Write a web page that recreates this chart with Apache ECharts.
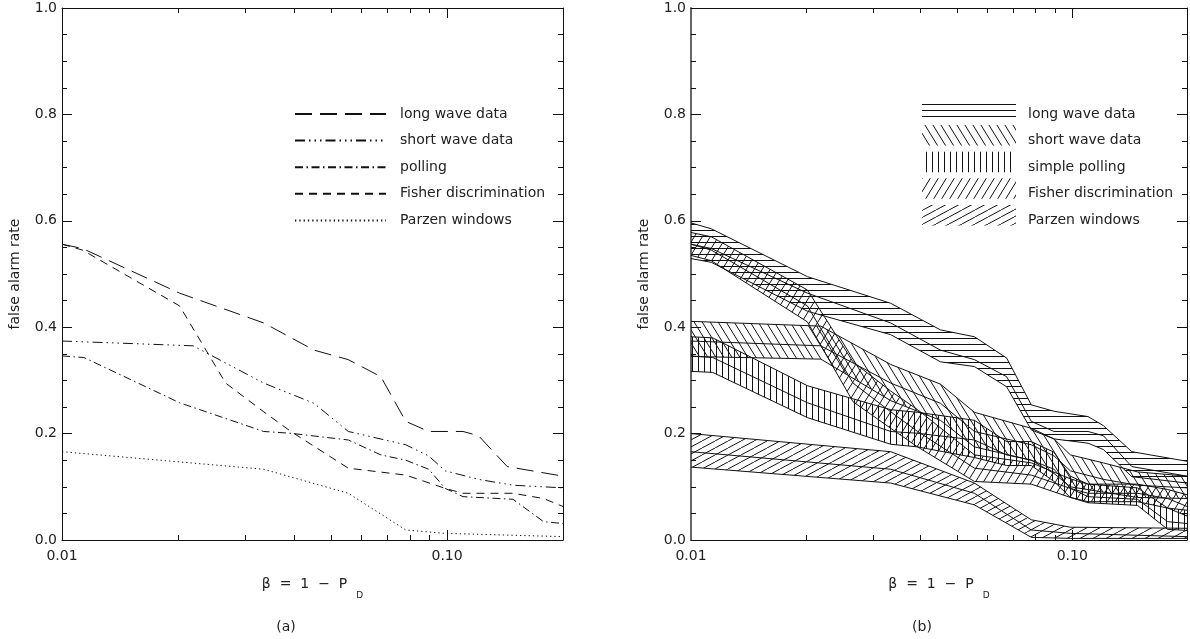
<!DOCTYPE html>
<html><head><meta charset="utf-8">
<script src="https://cdn.jsdelivr.net/npm/echarts@6/dist/echarts.min.js"></script>
<style>html,body{margin:0;padding:0;background:#fff}#c{width:1190px;height:639px}</style>
</head><body><div id="c"></div>
<script>
// ---------------- data ----------------
const xMinorTicks = [0.02, 0.03, 0.04, 0.05, 0.06, 0.07, 0.08, 0.09];
const xMajorTicks = [0.1];
const xTickLabels = { '0.01': '0.01', '0.1': '0.10' };

const lineNames = ['long wave data', 'short wave data', 'polling', 'Fisher discrimination', 'Parzen windows'];
const bandNames = ['long wave data', 'short wave data', 'simple polling', 'Fisher discrimination', 'Parzen windows'];

const longWaveX  = [0.01, 0.0113, 0.0202, 0.0334, 0.0451, 0.0554, 0.0673, 0.0781, 0.0896, 0.110, 0.1207, 0.1433, 0.2];
const longWaveY  = [0.556, 0.548, 0.464, 0.408, 0.357, 0.339, 0.307, 0.223, 0.204, 0.204, 0.196, 0.138, 0.120];
const longWaveHi = [0.596, 0.585, 0.495, 0.445, 0.395, 0.382, 0.342, 0.254, 0.242, 0.232, 0.215, 0.166, 0.148];
const longWaveLo = [0.529, 0.522, 0.430, 0.386, 0.335, 0.326, 0.288, 0.207, 0.190, 0.182, 0.170, 0.119, 0.107];

const shortWaveX  = [0.01, 0.0219, 0.0334, 0.0451, 0.0554, 0.0781, 0.0896, 0.0989, 0.1207, 0.1483, 0.2];
const shortWaveY  = [0.374, 0.365, 0.295, 0.257, 0.204, 0.179, 0.158, 0.130, 0.114, 0.103, 0.098];
const shortWaveHi = [0.411, 0.402, 0.330, 0.293, 0.240, 0.210, 0.190, 0.160, 0.145, 0.128, 0.120];
const shortWaveLo = [0.345, 0.340, 0.262, 0.225, 0.175, 0.150, 0.125, 0.100, 0.090, 0.080, 0.078];

const pollingX  = [0.01, 0.0114, 0.0202, 0.0334, 0.0393, 0.0554, 0.0673, 0.0781, 0.0896, 0.0989, 0.110, 0.1483, 0.178, 0.2];
const pollingY  = [0.346, 0.343, 0.258, 0.204, 0.2006, 0.188, 0.160, 0.150, 0.133, 0.097, 0.0815, 0.0765, 0.0345, 0.031];
const pollingHi = [0.382, 0.380, 0.290, 0.245, 0.240, 0.225, 0.185, 0.185, 0.165, 0.120, 0.105, 0.098, 0.060, 0.056];
const pollingLo = [0.317, 0.315, 0.230, 0.180, 0.175, 0.155, 0.140, 0.140, 0.110, 0.080, 0.070, 0.065, 0.020, 0.018];

const fisherX  = [0.01, 0.0113, 0.0202, 0.0266, 0.0334, 0.0393, 0.0554, 0.0781, 0.0989, 0.110, 0.1483, 0.178, 0.2];
const fisherY  = [0.556, 0.545, 0.440, 0.295, 0.241, 0.204, 0.135, 0.122, 0.097, 0.0878, 0.0878, 0.078, 0.063];
const fisherHi = [0.578, 0.570, 0.470, 0.335, 0.280, 0.245, 0.160, 0.145, 0.115, 0.105, 0.105, 0.095, 0.085];
const fisherLo = [0.535, 0.525, 0.410, 0.260, 0.210, 0.175, 0.110, 0.105, 0.080, 0.072, 0.072, 0.060, 0.045];

const parzenX  = [0.01, 0.0334, 0.0554, 0.0781, 0.0989, 0.2];
const parzenY  = [0.166, 0.133, 0.0878, 0.0188, 0.0125, 0.0063];
const parzenHi = [0.200, 0.166, 0.107, 0.038, 0.024, 0.022];
const parzenLo = [0.137, 0.107, 0.066, 0.005, 0.003, 0.003];

// ---------------- styling ----------------
const FONT = 'DejaVu Sans';
const INK = '#111';
const TXT = '#222';
const dashStyles = [[17, 8], [10, 4, 1.5, 4, 1.5, 4, 1.5, 4], [8, 3.5, 1.5, 3.5], [8, 6], [1.3, 3]];

function hatch(kind) {
  const c = document.createElement('canvas');
  let w, h;
  if (kind === 'h') { w = 8; h = 6; }
  else if (kind === 'v') { w = 6; h = 8; }
  else if (kind === 'back' || kind === 'fwd') { w = 8; h = 13; }
  else { w = 13; h = 7; }
  c.width = w; c.height = h;
  const g = c.getContext('2d');
  g.fillStyle = INK; g.strokeStyle = INK; g.lineWidth = 1;
  if (kind === 'h') g.fillRect(0, 2, w, 1);
  else if (kind === 'v') g.fillRect(2, 0, 1, h);
  else {
    g.beginPath();
    for (let k = -1; k <= 1; k++) {
      if (kind === 'back') { g.moveTo(k * w, 0); g.lineTo(k * w + w, h); }
      else { g.moveTo(k * w, h); g.lineTo(k * w + w, 0); }
    }
    g.stroke();
  }
  return { image: c, repeat: 'repeat' };
}
const patterns = [hatch('h'), hatch('back'), hatch('v'), hatch('fwd'), hatch('shallow')];

const lineSets = [
  [longWaveX, longWaveY, longWaveLo, longWaveHi],
  [shortWaveX, shortWaveY, shortWaveLo, shortWaveHi],
  [pollingX, pollingY, pollingLo, pollingHi],
  [fisherX, fisherY, fisherLo, fisherHi],
  [parzenX, parzenY, parzenLo, parzenHi]
];

const zip = (a, b) => a.map((v, i) => [v, b[i]]);

function axisSet(gi) {
  const common = { gridIndex: gi, type: 'log', min: 0.01, max: 0.2, splitLine: { show: false }, minorSplitLine: { show: false } };
  return [
    Object.assign({}, common, {
      position: 'bottom',
      axisLine: { show: true, lineStyle: { color: INK, width: 1 } },
      axisTick: { show: true, inside: true, length: 10, customValues: xMajorTicks, lineStyle: { color: INK } },
      axisLabel: { show: true, margin: 9, fontFamily: FONT, fontSize: 14, color: TXT,
        formatter: v => { for (const k in xTickLabels) if (Math.abs(v - Number(k)) < 1e-9) return xTickLabels[k]; return ''; } },
      name: 'β  =  1  −  P{s|D}', nameLocation: 'middle', nameGap: 29,
      nameTextStyle: { fontFamily: FONT, fontSize: 14, color: TXT, rich: { s: { fontFamily: FONT, fontSize: 9, color: TXT, padding: [22, 0, 0, 9] } } }
    }),
    Object.assign({}, common, {
      position: 'bottom', axisLine: { show: false }, axisLabel: { show: false },
      axisTick: { show: true, inside: true, length: 5, customValues: xMinorTicks, lineStyle: { color: INK } }
    }),
    Object.assign({}, common, {
      position: 'top', axisLine: { show: true, lineStyle: { color: INK, width: 1 } }, axisLabel: { show: false },
      axisTick: { show: true, inside: true, length: 10, customValues: xMajorTicks, lineStyle: { color: INK } }
    }),
    Object.assign({}, common, {
      position: 'top', axisLine: { show: false }, axisLabel: { show: false },
      axisTick: { show: true, inside: true, length: 5, customValues: xMinorTicks, lineStyle: { color: INK } }
    })
  ];
}
function yAxisSet(gi) {
  const common = { gridIndex: gi, type: 'value', min: 0, max: 1, interval: 0.2, splitLine: { show: false }, minorSplitLine: { show: false },
    axisTick: { show: true, inside: true, length: 10, lineStyle: { color: INK } },
    minorTick: { show: true, splitNumber: 4, length: 5, lineStyle: { color: INK } } };
  return [
    Object.assign({}, common, {
      position: 'left',
      axisLine: { show: true, lineStyle: { color: gi === 1 ? '#666' : INK, width: gi === 1 ? 2 : 1 } },
      axisLabel: { show: true, margin: 5, fontFamily: FONT, fontSize: 14, color: TXT, formatter: v => v.toFixed(1) },
      name: 'false alarm rate', nameLocation: 'middle', nameGap: 40, nameRotate: 90,
      nameTextStyle: { fontFamily: FONT, fontSize: 14, color: TXT }
    }),
    Object.assign({}, common, { position: 'right', axisLine: { show: true, lineStyle: { color: INK, width: 1 } }, axisLabel: { show: false } })
  ];
}

const series = [];
// panel (a): mean curves with dash styles
lineSets.forEach((s, i) => {
  series.push({ type: 'line', name: lineNames[i], xAxisIndex: 0, yAxisIndex: 0, data: zip(s[0], s[1]),
    symbol: 'none', silent: true, itemStyle: { color: INK }, lineStyle: { color: INK, width: 1, type: dashStyles[i] }, z: 3 });
});
// panel (b): hatched bands + boundary and mean lines
function bandRenderer(pattern) {
  return function (params, api) {
    if (params.dataIndexInside !== 0) return null;
    const n = params.dataInsideLength;
    const top = [], bot = [];
    for (let j = 0; j < n; j++) {
      top.push(api.coord([api.value(0, j), api.value(2, j)]));
      bot.push(api.coord([api.value(0, j), api.value(1, j)]));
    }
    return { type: 'polygon', shape: { points: top.concat(bot.reverse()) }, style: { fill: pattern, stroke: null } };
  };
}
lineSets.forEach((s, i) => {
  series.push({ type: 'custom', name: bandNames[i] + ' band', xAxisIndex: 4, yAxisIndex: 2, clip: true, silent: true,
    data: s[0].map((x, j) => [x, s[2][j], s[3][j]]), renderItem: bandRenderer(patterns[i]), z: 2 });
  [s[2], s[1], s[3]].forEach((ys, k) => {
    series.push({ type: 'line', name: bandNames[i] + ' ' + k, xAxisIndex: 4, yAxisIndex: 2, data: zip(s[0], ys),
      symbol: 'none', silent: true, lineStyle: { color: INK, width: 1 }, z: 3 });
  });
});

// legend (b) drawn with graphic swatches
const legendB = [];
bandNames.forEach((nm, i) => {
  const sh = i === 0 ? { x: 922, y: 100, width: 94, height: 17 } : { x: 922, y: 98.5 + 26.6 * i, width: 94, height: 20.5 };
  legendB.push({ type: 'rect', shape: sh, style: { fill: patterns[i] }, silent: true });
  legendB.push({ type: 'text', x: 1028, y: 114 + 26.6 * i, style: { text: nm, fontFamily: FONT, fontSize: 14, fill: TXT, verticalAlign: 'middle' }, silent: true });
});

const chart = echarts.init(document.getElementById('c'), null, { renderer: 'canvas' });
chart.setOption({
  animation: false,
  backgroundColor: '#fff',
  grid: [
    { left: 62, top: 8, width: 501, height: 532 },
    { left: 691, top: 8, width: 500, height: 532 }
  ],
  xAxis: axisSet(0).concat(axisSet(1)),
  yAxis: yAxisSet(0).concat(yAxisSet(1)),
  legend: [{
    data: lineNames, orient: 'vertical', left: 289, top: 102, itemWidth: 91, itemHeight: 14, itemGap: 12.6,
    selectedMode: false, itemStyle: { opacity: 0 },
    textStyle: { fontFamily: FONT, fontSize: 14, color: TXT, padding: [0, 0, 0, 9] }
  }],
  series: series,
  graphic: legendB.concat([
    { type: 'text', x: 286, y: 627, style: { text: '(a)', fontFamily: FONT, fontSize: 14, fill: TXT, align: 'center', verticalAlign: 'middle' } },
    { type: 'text', x: 922, y: 627, style: { text: '(b)', fontFamily: FONT, fontSize: 14, fill: TXT, align: 'center', verticalAlign: 'middle' } }
  ])
});
</script></body></html>
